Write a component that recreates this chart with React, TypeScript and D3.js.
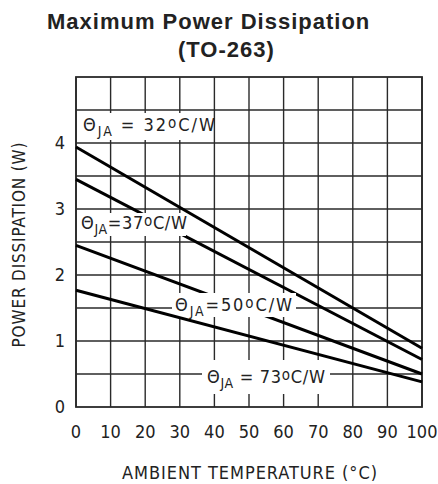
import React from 'react';
import * as d3 from 'd3';

// ambient temperature (°C) at the two ends of every derating line
const temps = [0, 100];

// power dissipation (W) at 0 °C and 100 °C
const theta32 = [3.94, 0.89];
const theta37 = [3.45, 0.72];
const theta50 = [2.45, 0.5];
const theta73 = [1.77, 0.38];

const xTicks = [0, 10, 20, 30, 40, 50, 60, 70, 80, 90, 100];
const yTicks = [0, 1, 2, 3, 4];
const yGrid = [0.5, 1, 1.5, 2, 2.5, 3, 3.5, 4, 4.5];

const W = 438;
const H = 484;
const margin = { top: 77, right: 16, bottom: 77, left: 76 };

const narrow = "'Liberation Sans Narrow', 'DejaVu Sans Condensed', 'Liberation Sans', sans-serif";

const x = d3.scaleLinear().domain([0, 100]).range([margin.left, W - margin.right]);
const y = d3.scaleLinear().domain([0, 5]).range([H - margin.bottom, margin.top]);

const line = d3
  .line<number>()
  .x((_, i) => x(temps[i]))
  .y((d) => y(d));

// label boxes (white) in pixel space: x0, x1, y0, y1
const box32 = [79, 212, 113, 140];
const box37 = [78, 186, 213, 236];
const box50 = [172, 296, 293, 317];
const box73 = [202, 330, 360, 394];

const Box = ({ b }: { b: number[] }) => (
  <rect x={b[0]} y={b[2]} width={b[1] - b[0]} height={b[3] - b[2]} fill="#fff" />
);

const Label = ({ x0, base, len, val, tight }: { x0: number; base: number; len: number; val: string; tight?: boolean }) => (
  <text
    x={x0}
    y={base}
    fontFamily={narrow}
    fontSize={18}
    fill="#222"
    textLength={len}
    lengthAdjust="spacing"
  >
    <tspan>Θ</tspan>
    <tspan fontSize={14} dy={5}>JA</tspan>
    <tspan dy={-5}>{tight ? '=' : ' = '}{val}</tspan>
    <tspan fontSize={15} dy={-3}>o</tspan>
    <tspan dy={3}>C/W</tspan>
  </text>
);

const App = () => {
  const stroke = '#2a2a2a';
  return (
    <svg width={W} height={H} style={{ position: 'absolute', left: 0, top: 0 }}>
      <rect width={W} height={H} fill="#fff" />
      <text x={47} y={29} fontFamily="'Liberation Sans', Arial, sans-serif" fontWeight="bold" fontSize={22} letterSpacing={1} fill="#222">
        Maximum Power Dissipation
      </text>
      <text x={178} y={57} fontFamily="'Liberation Sans', Arial, sans-serif" fontWeight="bold" fontSize={22} letterSpacing={1} fill="#222">
        (TO-263)
      </text>

      {/* grid */}
      <g stroke={stroke} strokeWidth={1.4}>
        {xTicks.map((t) => (
          <line key={'gx' + t} x1={x(t)} x2={x(t)} y1={y(0)} y2={y(5)} />
        ))}
        {yGrid.map((t) => (
          <line key={'gy' + t} x1={x(0)} x2={x(100)} y1={y(t)} y2={y(t)} />
        ))}
        <rect x={x(0)} y={y(5)} width={x(100) - x(0)} height={y(0) - y(5)} fill="none" strokeWidth={1.8} />
      </g>

      <Box b={box32} />
      <Box b={box73} />

      <g fill="none" stroke="#000" strokeWidth={3}>
        <path d={line(theta32) || ''} />
        <path d={line(theta37) || ''} />
      </g>
      <Box b={box37} />
      <path d={line(theta50) || ''} fill="none" stroke="#000" strokeWidth={3} />
      <Box b={box50} />
      <path d={line(theta73) || ''} fill="none" stroke="#000" strokeWidth={3} />

      <Label x0={83} base={131} len={132} val="32" />
      <Label x0={81} base={229} len={106} val="37" tight />
      <Label x0={175} base={311} len={117} val="50" tight />
      <Label x0={207} base={383} len={118} val="73" />

      {/* tick labels */}
      <g fontFamily={narrow} fontSize={18} fill="#222" textAnchor="middle">
        {xTicks.map((t) => (
          <text key={'tx' + t} x={x(t)} y={438}>
            {t}
          </text>
        ))}
        {yTicks.map((t) => (
          <text key={'ty' + t} x={60} y={y(t) + 6}>
            {t}
          </text>
        ))}
      </g>

      <text x={122} y={479} fontFamily={narrow} fontSize={18} fill="#222" textLength={255} lengthAdjust="spacing">
        AMBIENT TEMPERATURE (°C)
      </text>
      <text
        transform="translate(25,245) rotate(-90)"
        textAnchor="middle"
        fontFamily={narrow}
        fontSize={17}
        fill="#222"
        textLength={205}
        lengthAdjust="spacing"
      >
        POWER DISSIPATION (W)
      </text>
    </svg>
  );
};

export default App;
